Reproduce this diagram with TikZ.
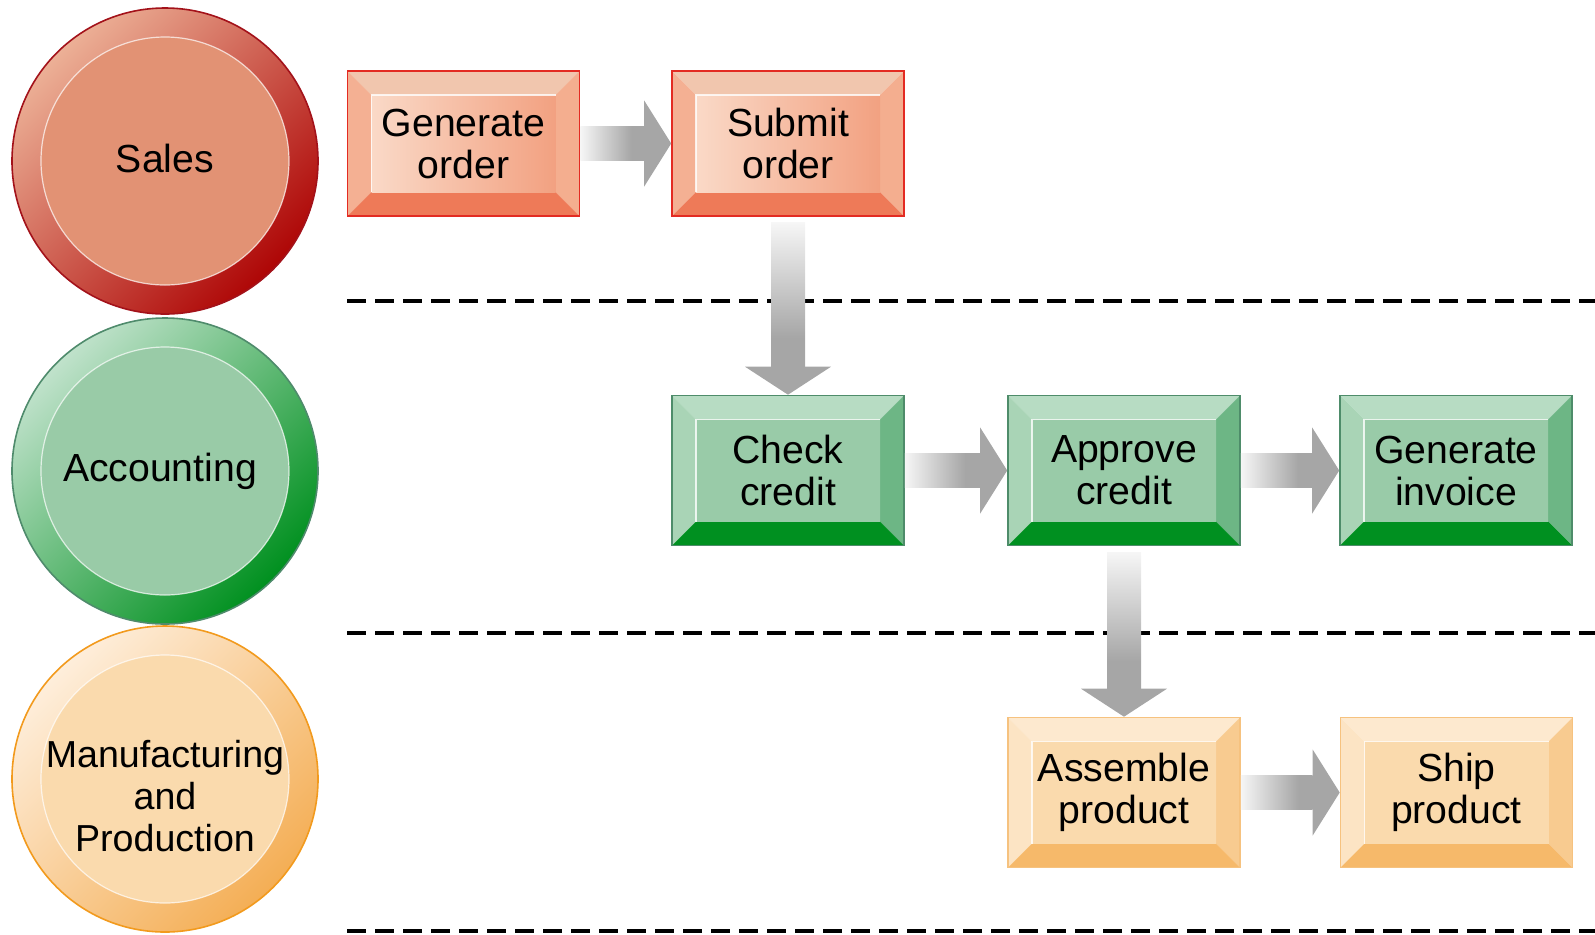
\documentclass[tikz,border=0pt]{standalone}
\usepackage{fontspec}
\setmainfont{Liberation Sans}
\usetikzlibrary{calc}

\definecolor{salesedge}{HTML}{A3121A}
\definecolor{salesA}{HTML}{ECB096}
\definecolor{salesB}{HTML}{D5694A}
\definecolor{salesC}{HTML}{AE0606}
\definecolor{salesin}{HTML}{E29274}
\definecolor{accedge}{HTML}{4F8B6C}
\definecolor{accA}{HTML}{C0E2CB}
\definecolor{accB}{HTML}{78BE8F}
\definecolor{accC}{HTML}{00901F}
\definecolor{accin}{HTML}{99CBA7}
\definecolor{mfgedge}{HTML}{F29A1D}
\definecolor{mfgA}{HTML}{FEEEDB}
\definecolor{mfgB}{HTML}{F9D29E}
\definecolor{mfgC}{HTML}{F4AE55}
\definecolor{mfgin}{HTML}{FADAAD}
\definecolor{redline}{HTML}{E32B22}
\definecolor{redtop}{HTML}{F1C6AE}
\definecolor{redleft}{HTML}{F4B093}
\definecolor{redright}{HTML}{F4AE8F}
\definecolor{redbottom}{HTML}{EE7A58}
\definecolor{redfaceA}{HTML}{FAD9C7}
\definecolor{redfaceB}{HTML}{F2A181}
\definecolor{greenline}{HTML}{4E8C6A}
\definecolor{greentop}{HTML}{B7DCC3}
\definecolor{greenleft}{HTML}{A9D4B6}
\definecolor{greenright}{HTML}{6DB685}
\definecolor{greenbottom}{HTML}{009020}
\definecolor{greenface}{HTML}{99CBA8}
\definecolor{orangeline}{HTML}{F6C27F}
\definecolor{orangetop}{HTML}{FDE9CF}
\definecolor{orangeleft}{HTML}{FCE4C4}
\definecolor{orangeright}{HTML}{F8CB90}
\definecolor{orangebottom}{HTML}{F6B96A}
\definecolor{orangeface}{HTML}{FADAAD}
\definecolor{flowgray}{HTML}{A6A6A6}
\definecolor{flowlight}{HTML}{F6F6F6}

\pgfdeclarehorizontalshading{flowshade}{100bp}{color(0bp)=(flowlight); color(25bp)=(flowlight); color(65bp)=(flowgray); color(100bp)=(flowgray)}

\newcommand{\bevelfaces}[6]{%
  \coordinate (bb-nw) at (path picture bounding box.north west);
  \coordinate (bb-se) at (path picture bounding box.south east);
  \coordinate (bb-ne) at (bb-nw -| bb-se);
  \coordinate (bb-sw) at (bb-nw |- bb-se);
  \coordinate (in-nw) at ([shift={(12pt,-12pt)}]bb-nw);
  \coordinate (in-ne) at ([shift={(-12pt,-12pt)}]bb-ne);
  \coordinate (in-sw) at ([shift={(12pt,12pt)}]bb-sw);
  \coordinate (in-se) at ([shift={(-12pt,12pt)}]bb-se);
  \fill[#1] (bb-nw) -- (bb-ne) -- (in-ne) -- (in-nw) -- cycle;
  \fill[#2] (bb-nw) -- (in-nw) -- (in-sw) -- (bb-sw) -- cycle;
  \fill[#3] (bb-ne) -- (bb-se) -- (in-se) -- (in-ne) -- cycle;
  \fill[#4] (bb-sw) -- (in-sw) -- (in-se) -- (bb-se) -- cycle;
  \shade[left color=#5, right color=#6] (in-nw) rectangle (in-se);
  \draw[white, line width=0.7pt, opacity=0.8] (in-sw) -- (in-nw) -- (in-ne);
}

\newcommand{\hflow}[2]{%
  \shade[shading=flowshade] ([yshift=8.5pt]#1.east) rectangle ([xshift=-13.5pt,yshift=-8.5pt]#2.west);
  \fill[flowgray] ([xshift=-13.5pt,yshift=21.5pt]#2.west) -- (#2.west) -- ([xshift=-13.5pt,yshift=-21.5pt]#2.west) -- cycle;
}
\newcommand{\vflow}[2]{%
  \shade[shading=flowshade, shading angle=-90] ([xshift=-8.5pt,yshift=-3pt]#1.south) rectangle ([xshift=8.5pt,yshift=14pt]#2.north);
  \fill[flowgray] ([xshift=-21.5pt,yshift=14pt]#2.north) -- (#2.north) -- ([xshift=21.5pt,yshift=14pt]#2.north) -- cycle;
}

\tikzset{
        every node/.style={font=\fontsize{19.6}{21}\selectfont, align=center},
        lane/.style={circle, minimum size=153pt, inner sep=0pt, line width=0.8pt,
          path picture={\fill[#1] (path picture bounding box.center) circle (62pt);
            \draw[white, line width=0.6pt, opacity=0.7] (path picture bounding box.center) circle (62pt);}},
        sales/.style={lane=salesin, draw=salesedge, top color=salesA, middle color=salesB, bottom color=salesC, shading angle=45},
        accounting/.style={lane=accin, draw=accedge, top color=accA, middle color=accB, bottom color=accC, shading angle=45},
        making/.style={lane=mfgin, draw=mfgedge, top color=mfgA, middle color=mfgB, bottom color=mfgC, shading angle=45},
        box/.style={rectangle, minimum width=116pt, minimum height=75pt, inner sep=0pt, line width=0.8pt},
        redbox/.style={box, minimum height=72.5pt, draw=redline,
          path picture={\bevelfaces{redtop}{redleft}{redright}{redbottom}{redfaceA}{redfaceB}}},
        greenbox/.style={box, draw=greenline,
          path picture={\bevelfaces{greentop}{greenleft}{greenright}{greenbottom}{greenface}{greenface}}},
        orangebox/.style={box, draw=orangeline,
          path picture={\bevelfaces{orangetop}{orangeleft}{orangeright}{orangebottom}{orangeface}{orangeface}}},
        lanesep/.style={line width=2.1pt, dash pattern=on 9.5pt off 4.5pt}
          }

\begin{document}
\begin{tikzpicture}[x=0.5pt, y=-0.5pt]
  \useasboundingbox (0,0) rectangle (1595,934);
  \draw[lanesep] (347,301) -- (1595,301);
  \draw[lanesep] (347,633) -- (1595,633);
  \draw[lanesep] (347,931) -- (1595,931);

  \node[sales, label={[yshift=1.5pt]center:Sales}] (salesLane) at (165,161) {};
  \node[accounting, label={[xshift=-2.5pt]center:Accounting}] (accLane) at (165,471) {};
  \node[making, label={[yshift=-8.5pt, font=\fontsize{18.8}{21}\selectfont]center:Manufacturing\\and\\Production}] (mfgLane) at (165,779) {};

  \node[redbox] (genOrder) at (463.5,143.5) {Generate\\order};
  \node[redbox] (submitOrder) at (788,143.5) {Submit\\order};
  \node[greenbox] (checkCredit) at (788,470.5) {Check\\credit};
  \node[greenbox] (approveCredit) at (1124,470.5) {Approve\\credit};
  \node[greenbox] (genInvoice) at (1456,470.5) {Generate\\invoice};
  \node[orangebox] (assemble) at (1124,792.5) {Assemble\\product};
  \node[orangebox] (ship) at (1456.5,792.5) {Ship\\product};

  \hflow{genOrder}{submitOrder}
  \vflow{submitOrder}{checkCredit}
  \hflow{checkCredit}{approveCredit}
  \hflow{approveCredit}{genInvoice}
  \vflow{approveCredit}{assemble}
  \hflow{assemble}{ship}
\end{tikzpicture}
\end{document}
